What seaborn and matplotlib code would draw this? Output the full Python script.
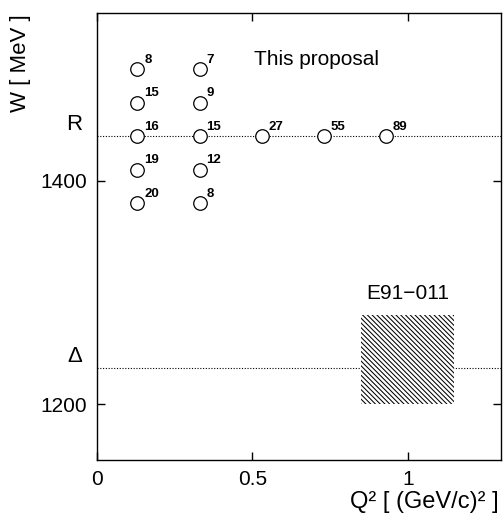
import numpy as np
import pandas as pd
import seaborn as sns
import matplotlib.pyplot as plt
from matplotlib.patches import Rectangle

# kinematic points of the proposal: Q^2 [(GeV/c)^2], W [MeV], count
q2_points = [0.13, 0.13, 0.13, 0.13, 0.13,
             0.33, 0.33, 0.33, 0.33, 0.33,
             0.53, 0.73, 0.93]
w_points = [1500, 1470, 1440, 1410, 1380,
            1500, 1470, 1440, 1410, 1380,
            1440, 1440, 1440]
counts = [8, 15, 16, 19, 20,
          7, 9, 15, 12, 8,
          27, 55, 89]

# resonance lines
res_names = ['R', '\u0394']
res_w = [1440, 1232]

# E91-011 region
e91_q2 = [0.85, 1.15]
e91_w = [1200, 1280]

xticks = [0, 0.5, 1]
xticklabels = ['0', '0.5', '1']
yticks = [1200, 1400]

sns.set_style('ticks', {'axes.edgecolor': 'black', 'text.color': 'black',
                        'xtick.color': 'black', 'ytick.color': 'black'})
plt.rcParams['font.family'] = ['Liberation Sans', 'DejaVu Sans']
plt.rcParams['hatch.linewidth'] = 0.75

df = pd.DataFrame({'q2': q2_points, 'w': w_points, 'n': counts})

fig = plt.figure(figsize=(5.04, 5.19), dpi=100)
ax = fig.add_axes([0.1925, 0.1137, 0.8015, 0.8606])

for name, w in zip(res_names, res_w):
    ax.axhline(w, color='black', lw=0.8, ls=(0, (1, 1.5)), zorder=1)
    ax.text(-0.037, w + 1, name, transform=ax.get_yaxis_transform(),
            ha='right', va='bottom', fontsize=16, color='black')

sns.scatterplot(data=df, x='q2', y='w', ax=ax, s=95, marker='o',
                facecolor='white', edgecolor='black', linewidth=0.9, zorder=3)

for _, row in df.iterrows():
    ax.annotate(str(int(row.n)), (row.q2, row.w), xytext=(5, 2.5),
                textcoords='offset points', ha='left', va='bottom',
                fontsize=9.5, fontweight='bold', color='black')

ax.add_patch(Rectangle((e91_q2[0], e91_w[0]), e91_q2[1] - e91_q2[0],
                       e91_w[1] - e91_w[0], facecolor='white',
                       edgecolor='black', lw=0, hatch='\\' * 7, zorder=2))
ax.text(np.mean(e91_q2), e91_w[1] + 11, 'E91\u2212011', ha='center',
        va='bottom', fontsize=15, color='black')

ax.text(0.505, 1500, 'This proposal', ha='left', va='bottom', fontsize=15,
        color='black')

ax.set_xlim(0, 1.3)
ax.set_ylim(1150, 1550)
ax.set_xticks(xticks)
ax.set_xticklabels(xticklabels)
ax.set_yticks(yticks)
ax.tick_params(direction='in', length=6, width=1, top=True, right=True,
               labelsize=15, pad=7, colors='black')
for s in ax.spines.values():
    s.set_linewidth(1)
    s.set_color('black')
ax.set_xlabel('')
ax.set_ylabel('')

fig.text(0.990, 0.012, 'Q\u00b2 [ (GeV/c)\u00b2 ]', ha='right', va='bottom',
         fontsize=17, color='black')
fig.text(0.04, 0.972, 'W [ MeV ]', rotation=90, ha='center', va='top',
         fontsize=16, color='black')

fig.savefig('out.png', dpi=100)
